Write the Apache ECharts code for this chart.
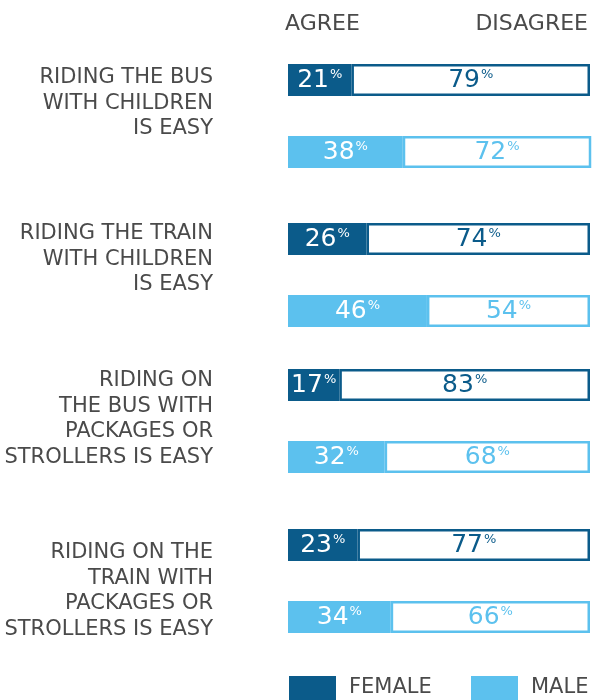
<!DOCTYPE html>
<html>
<head>
<meta charset="utf-8">
<script src="https://cdn.jsdelivr.net/npm/echarts@6/dist/echarts.min.js"></script>
<style>
  html, body { margin: 0; padding: 0; background: #ffffff; }
  #chart { width: 593px; height: 700px; }
</style>
</head>
<body>
<div id="chart"></div>
<script>
// Survey statements (one block per statement)
const questions = [
  'RIDING THE BUS\nWITH CHILDREN\nIS EASY',
  'RIDING THE TRAIN\nWITH CHILDREN\nIS EASY',
  'RIDING ON\nTHE BUS WITH\nPACKAGES OR\nSTROLLERS IS EASY',
  'RIDING ON THE\nTRAIN WITH\nPACKAGES OR\nSTROLLERS IS EASY'
];
const genders = ['FEMALE', 'MALE'];
const femaleAgree = [21, 26, 17, 23];
const femaleDisagree = [79, 74, 83, 77];
const maleAgree = [38, 46, 32, 34];
const maleDisagree = [72, 54, 68, 66];

const DARK = '#0b5b8a';
const LIGHT = '#5cc1ee';
const GREY = '#4a4a4a';
const FONT = 'DejaVu Sans';

// vertical placement of each statement block
const blockTops = [44, 203, 349, 509];
const labelTops = [65, 221, 368, 540];

function pctLabel(color) {
  return {
    show: true,
    position: 'inside',
    formatter: p => '{v|' + p.value + '}{p|%}',
    rich: {
      v: { fontFamily: FONT, fontSize: 25, color: color },
      p: { fontFamily: FONT, fontSize: 13, color: color, padding: [0, 0, 11, 1] }
    }
  };
}

const grids = [], xAxes = [], yAxes = [], series = [];
questions.forEach((q, i) => {
  grids.push({ left: 288, right: 3, top: blockTops[i], height: 144 });
  xAxes.push({ gridIndex: i, type: 'value', min: 0, max: 100, show: false });
  yAxes.push({ gridIndex: i, type: 'category', data: genders, inverse: true, show: false });
  series.push({
    name: 'FEMALE', type: 'bar', xAxisIndex: i, yAxisIndex: i, stack: 'q' + i,
    barWidth: 32, clip: true,
    itemStyle: { color: DARK },
    label: pctLabel('#ffffff'),
    data: [femaleAgree[i], '-']
  });
  series.push({
    name: 'MALE', type: 'bar', xAxisIndex: i, yAxisIndex: i, stack: 'q' + i,
    barWidth: 32, clip: true,
    itemStyle: { color: LIGHT },
    label: pctLabel('#ffffff'),
    data: ['-', maleAgree[i]]
  });
  series.push({
    name: 'DISAGREE', type: 'bar', xAxisIndex: i, yAxisIndex: i, stack: 'q' + i,
    barWidth: 32, clip: true,
    data: [
      { value: femaleDisagree[i], itemStyle: { color: '#ffffff', borderColor: DARK, borderWidth: 2.5 }, label: pctLabel(DARK) },
      { value: maleDisagree[i], itemStyle: { color: '#ffffff', borderColor: LIGHT, borderWidth: 2.5 }, label: pctLabel(LIGHT) }
    ]
  });
});

const graphics = [
  { type: 'text', x: 285, y: 13, style: { text: 'AGREE', font: '22px "' + FONT + '"', fill: GREY, align: 'left', verticalAlign: 'top' } },
  { type: 'text', x: 588, y: 13, style: { text: 'DISAGREE', font: '22px "' + FONT + '"', fill: GREY, align: 'right', verticalAlign: 'top' } }
];
questions.forEach((q, i) => {
  graphics.push({
    type: 'text', x: 213, y: labelTops[i],
    style: { text: q, font: '21px "' + FONT + '"', fill: GREY, align: 'right', verticalAlign: 'top', lineHeight: 25.5 }
  });
});

const legendBase = {
  top: 676, padding: 0,
  icon: 'rect', itemWidth: 47, itemHeight: 24,
  selectedMode: false,
  textStyle: { fontFamily: FONT, fontSize: 21, color: GREY, padding: [6, 0, 0, 8] }
};

const chart = echarts.init(document.getElementById('chart'), null, { renderer: 'canvas' });
chart.setOption({
  animation: false,
  grid: grids,
  xAxis: xAxes,
  yAxis: yAxes,
  series: series,
  graphic: graphics,
  legend: [
    Object.assign({}, legendBase, { data: ['FEMALE'], left: 289 }),
    Object.assign({}, legendBase, { data: ['MALE'], left: 471 })
  ]
});
</script>
</body>
</html>
